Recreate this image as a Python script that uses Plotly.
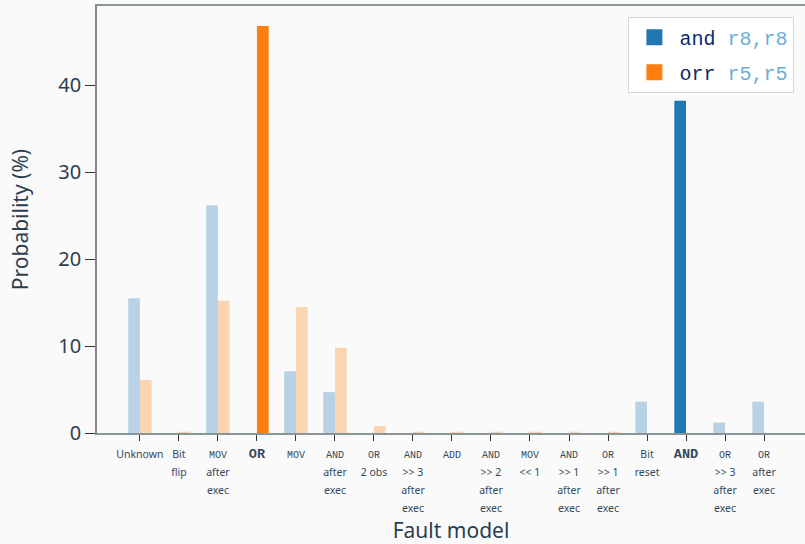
import plotly.graph_objects as go

# ---- data ----
categories = ["Unknown", "Bit flip", "MOV after exec", "OR", "MOV", "AND after exec",
              "OR 2 obs", "AND >> 3 after exec", "ADD", "AND >> 2 after exec",
              "MOV << 1", "AND >> 1 after exec", "OR >> 1 after exec", "Bit reset",
              "AND", "OR >> 3 after exec", "OR after exec"]
and_r8 = [15.5, 0, 26.2, 0, 7.1, 4.7, 0, 0, 0, 0, 0, 0, 0, 3.6, 38.2, 1.2, 3.6]
orr_r5 = [6.1, 0.15, 15.2, 46.8, 14.5, 9.8, 0.8, 0.15, 0.15, 0.15, 0.15, 0.15, 0.15, 0, 0, 0, 0]
and_highlight = "AND"
orr_highlight = "OR"
yticks = [0, 10, 20, 30, 40]

MONO = "Liberation Mono"
SANS = "Noto Sans"
TXT = "#2c3e50"

def m(s):
    return f'<span style="font-family:{MONO};font-size:10px">{s}</span>'

def s(t):
    return f'<span style="font-family:{SANS};font-size:10.5px">{t}</span>'

def b(t):
    return f'<span style="font-family:{MONO};font-size:13.5px;font-weight:bold"><b>{t}</b></span>'

tick_labels = [
    s("Unknown"),
    s("Bit") + "<br>" + s("flip"),
    m("MOV") + "<br>" + s("after") + "<br>" + s("exec"),
    b("OR"),
    m("MOV"),
    m("AND") + "<br>" + s("after") + "<br>" + s("exec"),
    m("OR") + "<br>" + s("2 obs"),
    m("AND") + "<br>" + s("&gt;&gt; 3") + "<br>" + s("after") + "<br>" + s("exec"),
    m("ADD"),
    m("AND") + "<br>" + s("&gt;&gt; 2") + "<br>" + s("after") + "<br>" + s("exec"),
    m("MOV") + "<br>" + s("&lt;&lt; 1"),
    m("AND") + "<br>" + s("&gt;&gt; 1") + "<br>" + s("after") + "<br>" + s("exec"),
    m("OR") + "<br>" + s("&gt;&gt; 1") + "<br>" + s("after") + "<br>" + s("exec"),
    s("Bit") + "<br>" + s("reset"),
    b("AND"),
    m("OR") + "<br>" + s("&gt;&gt; 3") + "<br>" + s("after") + "<br>" + s("exec"),
    m("OR") + "<br>" + s("after") + "<br>" + s("exec"),
]

BLUE = "rgb(31,119,180)"
BLUE_L = "rgba(31,119,180,0.3)"
ORANGE = "rgb(255,127,14)"
ORANGE_L = "rgba(255,127,14,0.3)"

blue_colors = [BLUE if c == and_highlight else BLUE_L for c in categories]
orange_colors = [ORANGE if c == orr_highlight else ORANGE_L for c in categories]

name_and = '<span style="color:#0b2a6e">and</span> <span style="color:#6baed6">r8,r8</span>'
name_orr = '<span style="color:#0b2a6e">orr</span> <span style="color:#6baed6">r5,r5</span>'

fig = go.Figure()
fig.add_trace(go.Bar(
    x=categories, y=and_r8, marker=dict(color=blue_colors, line=dict(width=0)),
    name=name_and, offsetgroup="a", legendgroup="a", showlegend=False,
))
fig.add_trace(go.Bar(
    x=categories, y=orr_r5, marker=dict(color=orange_colors, line=dict(width=0)),
    name=name_orr, offsetgroup="b", legendgroup="b", showlegend=False,
))
# legend entries with the full colours (large square swatches)
fig.add_trace(go.Scatter(
    x=[categories[0]], y=[None], mode="markers",
    marker=dict(color=BLUE, symbol="square", size=16, line=dict(width=0)),
    name=name_and, legendgroup="a", showlegend=True,
))
fig.add_trace(go.Scatter(
    x=[categories[0]], y=[None], mode="markers",
    marker=dict(color=ORANGE, symbol="square", size=16, line=dict(width=0)),
    name=name_orr, legendgroup="b", showlegend=True,
))

fig.update_layout(
    width=805, height=544,
    margin=dict(l=97, r=0, t=6, b=111),
    paper_bgcolor="#fafafa", plot_bgcolor="#fafafa",
    barmode="group", bargap=0.4, bargroupgap=0,
    font=dict(family=SANS, color=TXT),
    showlegend=True,
    legend=dict(x=0.985, y=0.975, xanchor="right", yanchor="top",
                bgcolor="white", bordercolor="#d5d5d5", borderwidth=1,
                font=dict(family=MONO, size=20), tracegroupgap=6,
                itemwidth=40, itemsizing="trace"),
    xaxis=dict(
        type="category", categoryorder="array", categoryarray=categories,
        tickmode="array", tickvals=categories, ticktext=tick_labels,
        tickangle=0, ticks="outside", ticklen=6, tickcolor="#333333",
        tickfont=dict(size=14, color="#34495e"),
        range=[-1.1, 17.05],
        showline=True, linecolor="#8a9597", linewidth=2, mirror=True,
        showgrid=False, zeroline=False,
        title=dict(text="Fault model", font=dict(size=21, color=TXT), standoff=9),
    ),
    yaxis=dict(
        range=[0, 49.1], tickvals=yticks, ticks="outside", ticklen=10,
        tickcolor="#333333", tickfont=dict(size=20, color=TXT),
        showline=True, linecolor="#7f8c8d", linewidth=1.5,
        showgrid=False, zeroline=False,
        title=dict(text="Probability (%)", font=dict(size=21, color=TXT), standoff=24),
    ),
)

fig.write_html("out.html")
